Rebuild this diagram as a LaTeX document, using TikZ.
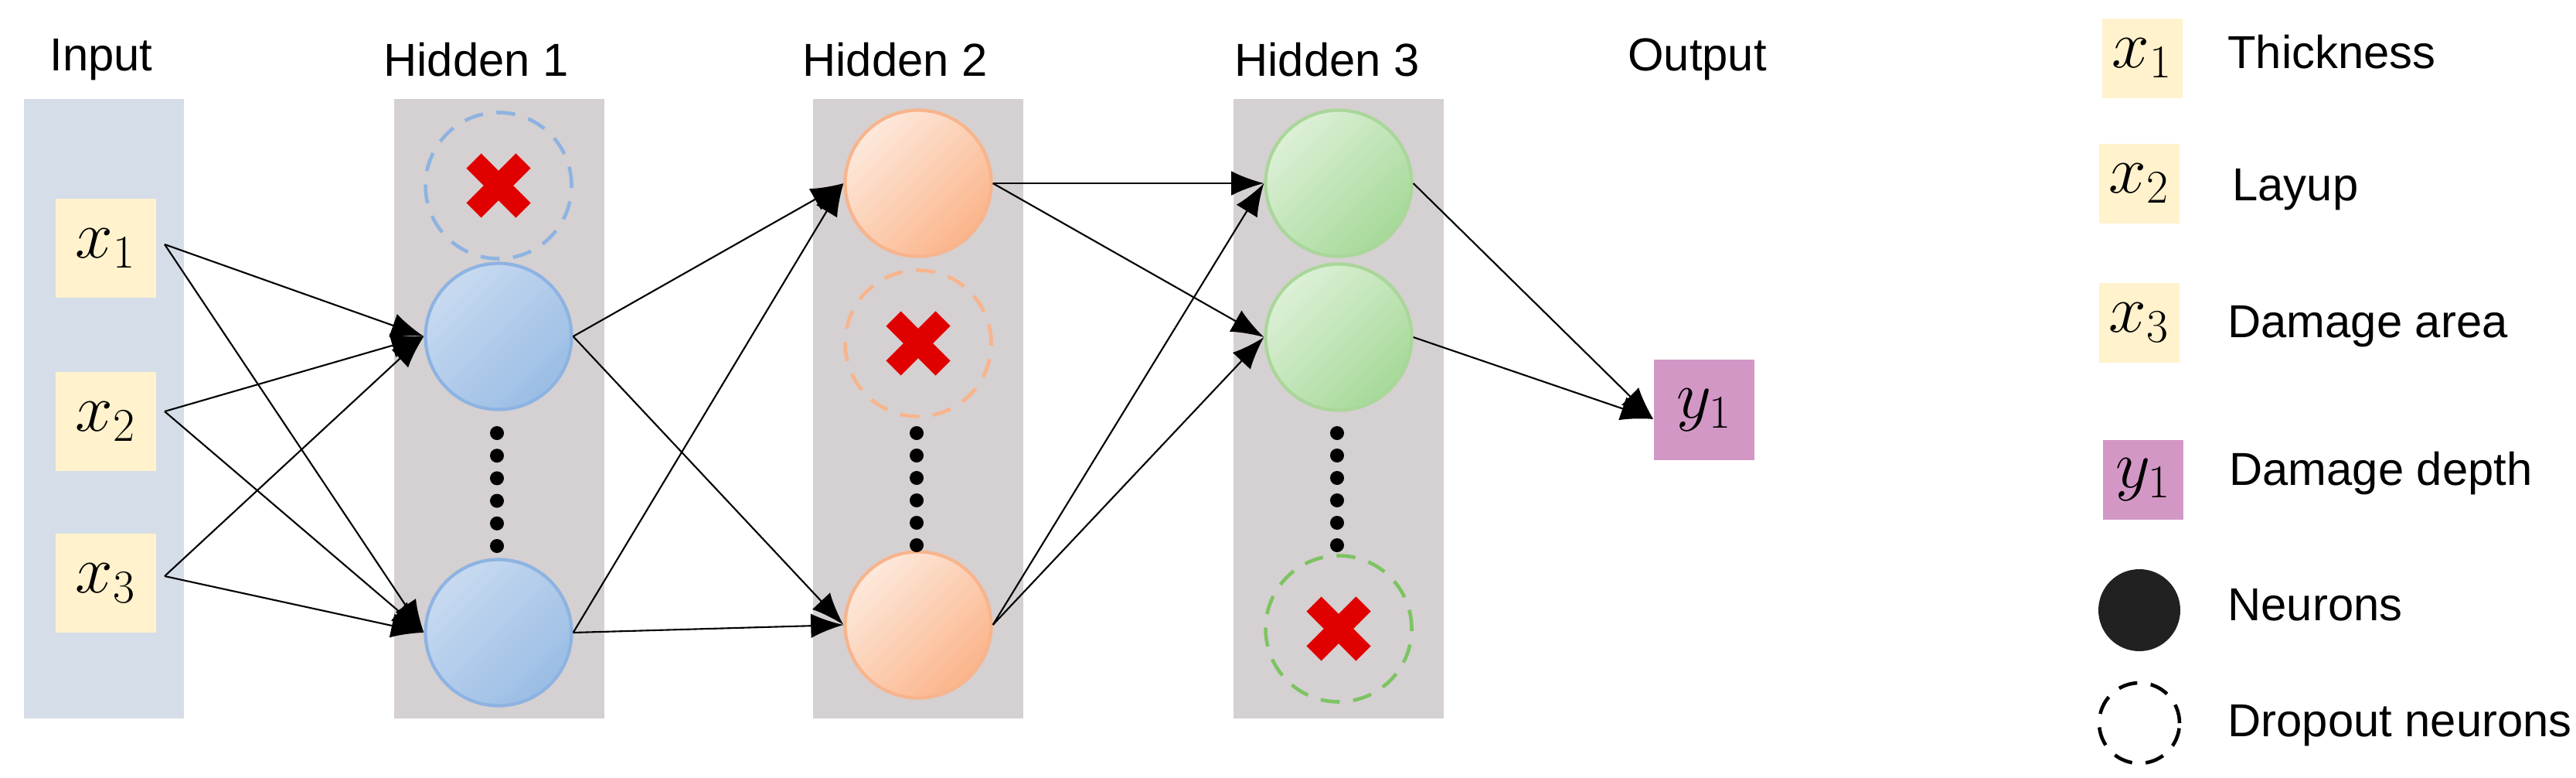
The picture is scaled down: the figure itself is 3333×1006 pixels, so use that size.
\documentclass[tikz,border=0pt]{standalone}
\usepackage{fontspec}
\setmainfont{Liberation Sans}
\usetikzlibrary{arrows.meta,shapes.geometric}
\definecolor{inpanel}{HTML}{D5DEE8}
\definecolor{hidpanel}{HTML}{D5D0D1}
\definecolor{xbox}{HTML}{FFF2CC}
\definecolor{ybox}{HTML}{D397C6}
\definecolor{bluA}{HTML}{C8DAF0}\definecolor{bluB}{HTML}{9ABDE5}\definecolor{bluL}{HTML}{8DB3E2}
\definecolor{orA}{HTML}{FDE9DC}\definecolor{orB}{HTML}{FBB48A}\definecolor{orL}{HTML}{F8B48C}
\definecolor{grA}{HTML}{DCF0D6}\definecolor{grB}{HTML}{A6D999}\definecolor{grL}{HTML}{A9D79A}\definecolor{grD}{HTML}{7CC462}
\definecolor{xred}{HTML}{E00000}
\begin{document}
\begin{tikzpicture}[x=0.01cm,y=-0.01cm,
  txt/.style={font=\fontsize{17}{20}\selectfont},
  mth/.style={font=\fontsize{23}{26}\selectfont},
  vbox/.style={fill=xbox,minimum width=130*0.01cm,minimum height=128*0.01cm,inner sep=0,mth},
  lbox/.style={minimum width=104*0.01cm,minimum height=103*0.01cm,inner sep=0,mth},
  neu/.style={circle,minimum size=189*0.01cm,line width=1.2pt,inner sep=0},
  blu/.style={neu,draw=bluL,shading=axis,top color=bluA,bottom color=bluB,shading angle=45},
  ora/.style={neu,draw=orL,shading=axis,top color=orA,bottom color=orB,shading angle=45},
  gre/.style={neu,draw=grL,shading=axis,top color=grA,bottom color=grB,shading angle=45},
  drop/.style={neu,dash pattern=on 7pt off 5pt,line width=1.3pt,fill=none},
  arr/.style={-{Latex[length=12pt,width=9pt]},line width=0.6pt},
  ldot/.style={circle,fill=black,minimum size=18*0.01cm,inner sep=0}]
\useasboundingbox (0,0) rectangle (3333,1006);
% panels
\fill[inpanel] (31,128) rectangle (238,929);
\fill[hidpanel] (510,128) rectangle (782,929);
\fill[hidpanel] (1052,128) rectangle (1324,929);
\fill[hidpanel] (1596,128) rectangle (1868,929);
% titles
\node[txt] (tIn) at (131,77) {Input};
\node[txt] (tH1) at (616,77) {Hidden 1};
\node[txt] (tH2) at (1158,77) {Hidden 2};
\node[txt] (tH3) at (1717,77) {Hidden 3};
\node[txt] (tOut) at (2196,77) {Output};
% inputs
\node[vbox] (x1) at (137,321) {$x_1$};
\node[vbox] (x2) at (137,545) {$x_2$};
\node[vbox] (x3) at (137,754) {$x_3$};
\coordinate (s1) at (213,316);
\coordinate (s2) at (213,532);
\coordinate (s3) at (213,745);
% hidden 1
\node[drop,draw=bluL] (h1d) at (645,240) {};
\node[blu] (h1a) at (645,435) {};
\node[blu] (h1b) at (645,818) {};
% hidden 2
\node[ora] (h2a) at (1188,237) {};
\node[drop,draw=orL] (h2d) at (1188,444) {};
\node[ora] (h2b) at (1188,808) {};
% hidden 3
\node[gre] (h3a) at (1732,237) {};
\node[gre] (h3b) at (1732,436) {};
\node[drop,draw=grD] (h3d) at (1732,813) {};
% dots
\foreach \i in {0,...,5}{
  \node[ldot] (da\i) at (643,560+29.2*\i) {};
  \node[ldot] (db\i) at (1186,560+29*\i) {};
  \node[ldot] (dc\i) at (1730,560+29*\i) {};
}
% output
\node[fill=ybox,minimum width=130*0.01cm,minimum height=130*0.01cm,inner sep=0,mth] (y) at (2205,530) {$y_1$};
% crosses
\foreach \c in {h1d,h2d,h3d}{
 \draw[xred,line width=0.27cm] ([shift={(-32,-32)}]\c.center) -- ([shift={(32,32)}]\c.center);
 \draw[xred,line width=0.27cm] ([shift={(-32,32)}]\c.center) -- ([shift={(32,-32)}]\c.center);
}
% connections
\foreach \s in {s1,s2,s3}{\draw[arr] (\s) -- (h1a.west); \draw[arr] (\s) -- (h1b.west);}
\foreach \a in {h1a,h1b}{\draw[arr] (\a.east) -- (h2a.west); \draw[arr] (\a.east) -- (h2b.west);}
\foreach \a in {h2a,h2b}{\draw[arr] (\a.east) -- (h3a.west); \draw[arr] (\a.east) -- (h3b.west);}
\draw[arr] (h3a.east) -- ([yshift=-0.12cm]y.west);
\draw[arr] (h3b.east) -- ([yshift=-0.12cm]y.west);
% legend
\node[lbox,fill=xbox] (l1) at (2772,75) {$x_1$};
\node[lbox,fill=xbox] (l2) at (2768,237) {$x_2$};
\node[lbox,fill=xbox] (l3) at (2768,417) {$x_3$};
\node[lbox,fill=ybox] (l4) at (2773,620) {$y_1$};
\node[ellipse,fill=black!87,minimum width=106*0.01cm,minimum height=106*0.01cm,inner sep=0] (l5) at (2768,789) {};
\node[ellipse,draw=black,dash pattern=on 7pt off 5pt,line width=1.3pt,minimum width=104*0.01cm,minimum height=104*0.01cm,inner sep=0] (l6) at (2768,935) {};
\node[txt,anchor=west] (t1) at (2870,67) {Thickness};
\node[txt,anchor=west] (t2) at (2876,245) {Layup};
\node[txt,anchor=west] (t3) at (2870,422) {Damage area};
\node[txt,anchor=west] (t4) at (2872,612) {Damage depth};
\node[txt,anchor=west] (t5) at (2870,782) {Neurons};
\node[txt,anchor=west] (t6) at (2870,938) {Dropout neurons};
\end{tikzpicture}
\end{document}
